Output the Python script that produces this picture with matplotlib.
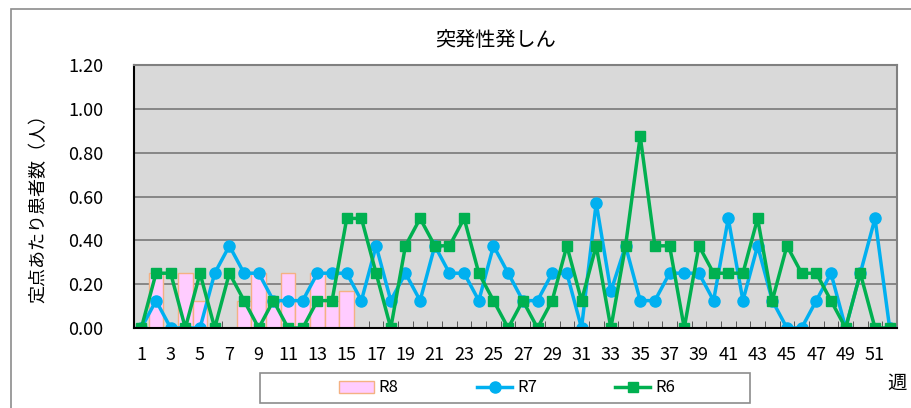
import numpy as np
import matplotlib
matplotlib.use('Agg')
from matplotlib import pyplot as plt
from matplotlib.patches import Rectangle

plt.rcParams['font.family'] = ['Noto Sans CJK JP', 'DejaVu Sans']

# data (per week)
weeks = list(range(1, 53))
r8 = [0, 0.25, 0, 0.25, 0.125, 0, 0, 0.125, 0.25, 0.125, 0.25, 0.125, 0.25, 0.125, 0.167]
r7 = [0, 0.125, 0, 0, 0, 0.25, 0.375, 0.25, 0.25, 0.125,
      0.125, 0.125, 0.25, 0.25, 0.25, 0.125, 0.375, 0.125, 0.25, 0.125,
      0.375, 0.25, 0.25, 0.125, 0.375, 0.25, 0.125, 0.125, 0.25, 0.25,
      0, 0.571, 0.167, 0.375, 0.125, 0.125, 0.25, 0.25, 0.25, 0.125,
      0.5, 0.125, 0.375, 0.125, 0, 0, 0.125, 0.25, 0, 0.25,
      0.5, 0]
r6 = [0, 0.25, 0.25, 0, 0.25, 0, 0.25, 0.125, 0, 0.125,
      0, 0, 0.125, 0.125, 0.5, 0.5, 0.25, 0, 0.375, 0.5,
      0.375, 0.375, 0.5, 0.25, 0.125, 0, 0.125, 0, 0.125, 0.375,
      0.125, 0.375, 0, 0.375, 0.875, 0.375, 0.375, 0, 0.375, 0.25,
      0.25, 0.25, 0.5, 0.125, 0.375, 0.25, 0.25, 0.125, 0, 0.25,
      0, 0]
xtick_labels = [str(w) for w in weeks if w % 2 == 1]
yticks = [0, 0.2, 0.4, 0.6, 0.8, 1.0, 1.2]

fig = plt.figure(figsize=(9.12, 4.08), dpi=100)
ax = fig.add_axes([134 / 912, 80 / 408, 763 / 912, 263 / 408])
ax.set_facecolor('#D9D9D9')

# chart area border (cut off on right and bottom)
fig.add_artist(Rectangle((11 / 912, -0.2), 1.2, 1.2 - 9 / 408,
                         transform=fig.transFigure, fill=False,
                         edgecolor='#8C8C8C', lw=1.2))
# legend box
fig.add_artist(Rectangle((260 / 912, 5 / 408), 490 / 912, 30 / 408,
                         transform=fig.transFigure, fill=False,
                         edgecolor='#8C8C8C', lw=1.2))

#plot series
bars = ax.bar(weeks[:len(r8)], r8, width=1.0, color='#FFCCFF', edgecolor='#F4B183',
              linewidth=1, label='R8', zorder=2)
l7, = ax.plot(weeks, r7, '-o', c='#00B0F0', lw=2.5, ms=8, label='R7', zorder=3)
l6, = ax.plot(weeks, r6, '-s', c='#00B050', lw=2.5, ms=7.5, label='R6', zorder=4)

ax.set_xlim(0.5, 52.5)
ax.set_ylim(0, 1.2)
ax.set_yticks(yticks)
ax.set_yticklabels(['%.2f' % v for v in yticks])
ax.set_xticks([w for w in weeks if w % 2 == 1])
ax.set_xticklabels(xtick_labels)
ax.set_xticks(np.arange(0.5, 53, 1), minor=True)
ax.tick_params(axis='x', which='major', length=0, pad=13, labelsize=13)
ax.tick_params(axis='x', which='minor', direction='in', length=5, color='#404040')
ax.tick_params(axis='y', length=0, pad=22, labelsize=13)
ax.grid(axis='y', color='#808080', lw=1.3, zorder=1)
ax.set_axisbelow(True)
for s in ['top', 'right']:
    ax.spines[s].set_color('#808080')
    ax.spines[s].set_linewidth(1.5)
for s in ['left', 'bottom']:
    ax.spines[s].set_color('black')
    ax.spines[s].set_linewidth(1.5)
ax.spines['bottom'].set_zorder(5)

fig.text(496 / 912, 1 - 40 / 408, '突発性発しん', ha='center', va='center', fontsize=14.5)
fig.text(38 / 912, 1 - 204 / 408, '定点あたり患者数（人）', ha='center', va='center',
         rotation=90, fontsize=13)
fig.text(897 / 912, 1 - 383 / 408, '週', ha='center', va='center', fontsize=14)

leg = fig.legend([bars, l7, l6], ['R8', 'R7', 'R6'], loc='center',
                 bbox_to_anchor=(507 / 912, 20 / 408), ncol=3, fontsize=12,
                 frameon=False, handlelength=2.1, handletextpad=0.3,
                 columnspacing=4.7)

fig.savefig('out.png', dpi=100)
